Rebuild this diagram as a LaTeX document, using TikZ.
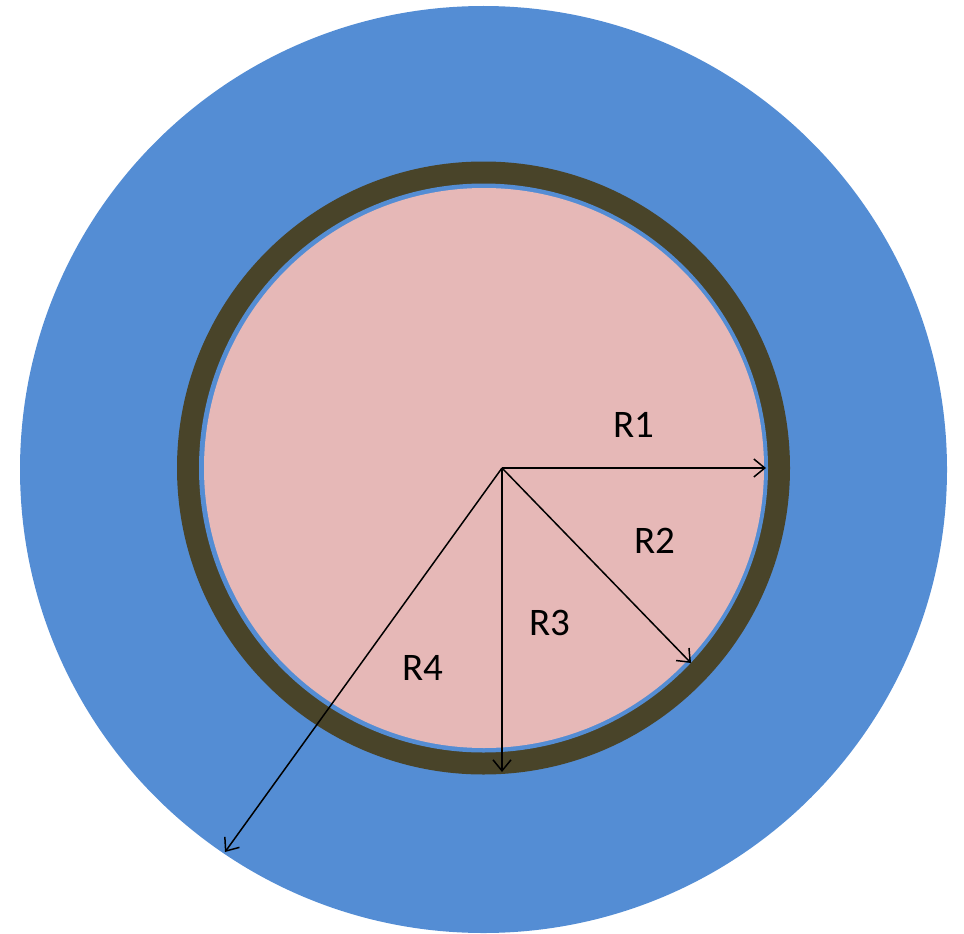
\documentclass[tikz,border=0pt]{standalone}
\usepackage{fontspec}
\setmainfont{Carlito}
\usetikzlibrary{arrows.meta}
\definecolor{outerblue}{RGB}{84,141,212}
\definecolor{ringdark}{RGB}{73,68,41}
\definecolor{corepink}{RGB}{230,184,183}
\tikzset{
  radarrow/.style={draw=black, line width=1.5pt, -{Straight Barb[length=11pt,width=18pt,line width=1.5pt]}},
  rlabel/.style={font=\fontsize{39}{39}\selectfont, text=black, inner sep=0pt}
}
\begin{document}
\begin{tikzpicture}[x=1pt,y=-1pt]
\useasboundingbox (0,0) rectangle (964,934);
\fill[outerblue] (483.5,469.5) circle (463.5);
\fill[ringdark] (483.5,468) circle (306.5);
\fill[outerblue] (483.5,468) circle (284.5);
\fill[corepink] (484,468) circle (280);
\coordinate (O) at (502,468);
\coordinate (t1) at (766,468);
\coordinate (t2) at (691,663);
\coordinate (t3) at (502,772);
\coordinate (t4) at (225,852);
\draw[radarrow] (O) -- (t1);
\draw[radarrow] (O) -- (t2);
\draw[radarrow] (O) -- (t3);
\draw[radarrow] (O) -- (t4);
\node[rlabel] (l1) at (634,425) {R1};
\node[rlabel] (l2) at (655,541) {R2};
\node[rlabel] (l3) at (550,623) {R3};
\node[rlabel] (l4) at (423,668) {R4};
\end{tikzpicture}
\end{document}
